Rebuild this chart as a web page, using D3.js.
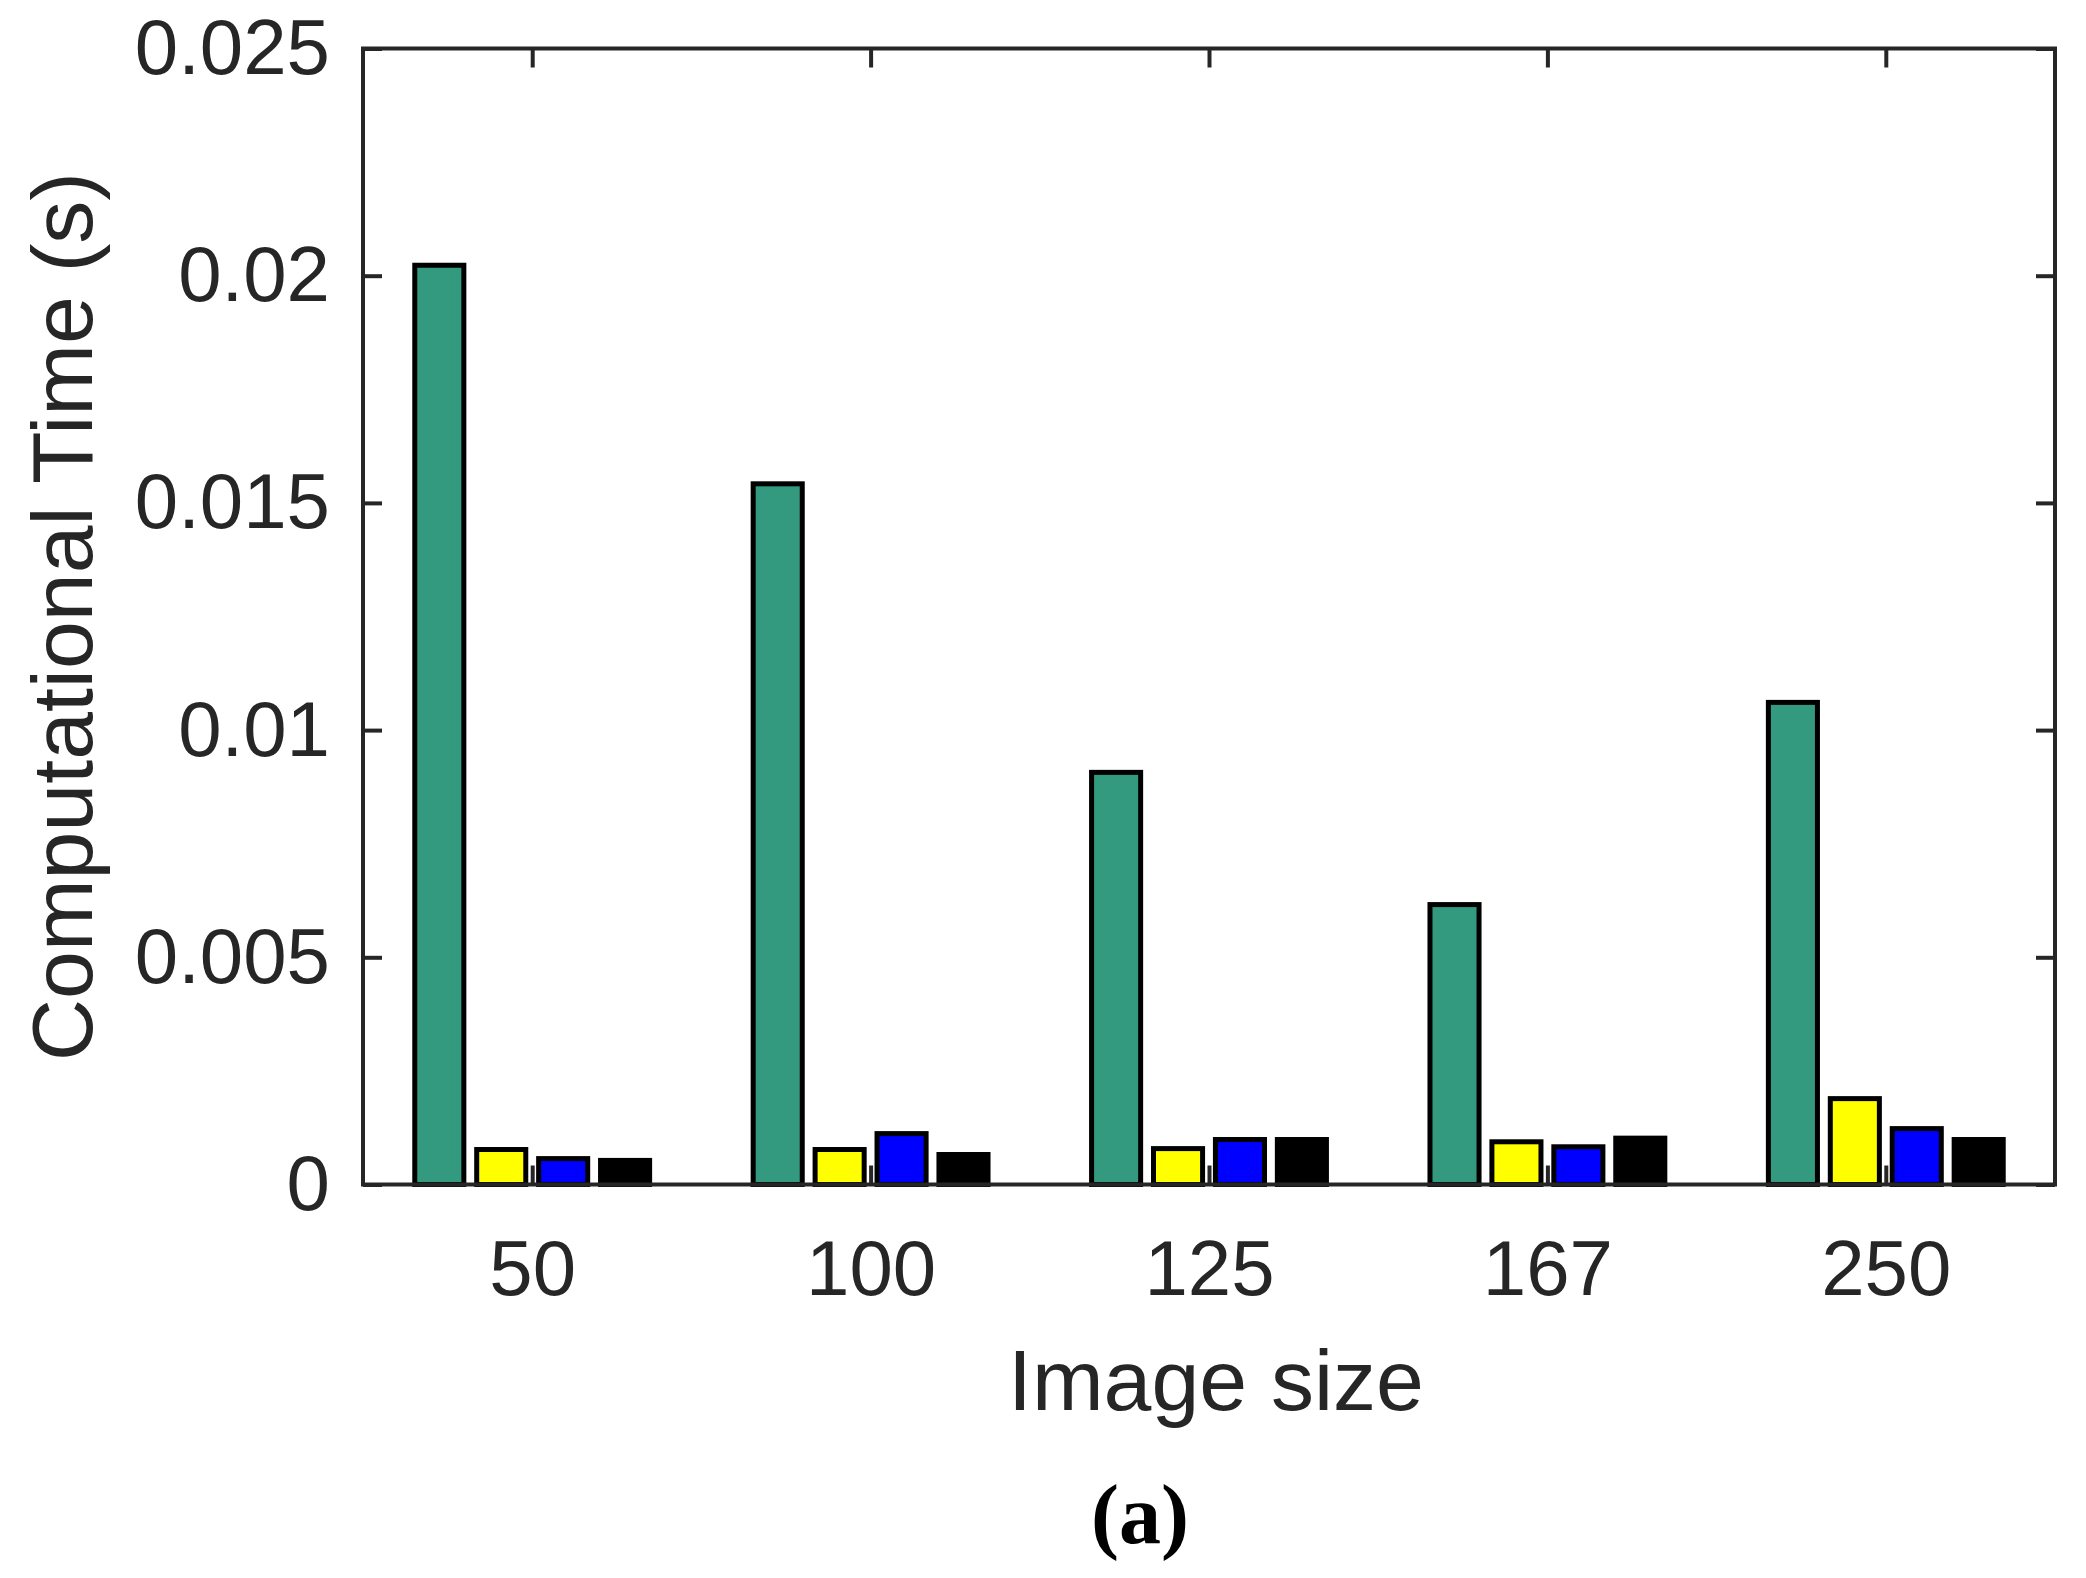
<!DOCTYPE html>
<html>
<head>
<meta charset="UTF-8">
<title>Computational Time</title>
<script src="https://cdn.jsdelivr.net/npm/d3@7"></script>
<style>
  body { margin: 0; background: #fff; }
  .tick text { font-family: "Liberation Sans", Arial, sans-serif; font-size: 78px; fill: #262626; }
  .tick line { stroke: #262626; stroke-width: 4; }
  .lbl { font-family: "Liberation Sans", Arial, sans-serif; font-size: 86px; fill: #262626; }
</style>
</head>
<body>
<svg id="chart" width="2086" height="1578"></svg>
<script>
// data
var categories = ["50", "100", "125", "167", "250"];
var seriesNames = ["s1", "s2", "s3", "s4"];
var greenVals  = [0.02023, 0.01542, 0.00907, 0.00616, 0.01061];
var yellowVals = [0.00077, 0.00077, 0.00079, 0.00094, 0.00189];
var blueVals   = [0.00057, 0.00112, 0.00099, 0.00083, 0.00123];
var blackVals  = [0.00053, 0.00066, 0.00099, 0.00102, 0.00099];
var yTicks = [0, 0.005, 0.01, 0.015, 0.02, 0.025];
var yTickLabels = ["0", "0.005", "0.01", "0.015", "0.02", "0.025"];

var colors = ["#33997f", "#ffff00", "#0000ff", "#000000"];
var allVals = [greenVals, yellowVals, blueVals, blackVals];

// plot box ("top" is a reserved window property, so use other names)
var pLeft = 363, pRight = 2055, pTop = 48.5, pBottom = 1184.5;

var svg = d3.select("#chart");

var x = d3.scaleLinear().domain([0.5, categories.length + 0.5]).range([pLeft, pRight]);
var y = d3.scaleLinear().domain([0, 0.025]).range([pBottom, pTop]);

// bars inside a group: 4 bars, step 0.183 units
var step = 0.183, barW = 0.145;
var sub = d3.scaleLinear().domain([0, 3]).range([-1.5 * step, 1.5 * step]);

// bars
seriesNames.forEach(function(name, s) {
  svg.append("g")
    .selectAll("rect")
    .data(allVals[s])
    .enter()
    .append("rect")
    .attr("x", function(d, i) { return x(i + 1 + sub(s) - barW / 2); })
    .attr("width", x(barW) - x(0))
    .attr("y", function(d) { return y(d); })
    .attr("height", function(d) { return y(0) - y(d); })
    .attr("fill", colors[s])
    .attr("stroke", "#000")
    .attr("stroke-width", 5);
});

// axes
var xPos = categories.map(function(c, i) { return i + 1; });

svg.append("g")
  .attr("transform", "translate(0," + pBottom + ")")
  .call(d3.axisBottom(x).tickValues(xPos).tickSize(-19).tickPadding(55)
    .tickFormat(function(d) { return categories[d - 1]; }))
  .call(function(g) { g.select(".domain").remove(); });

svg.append("g")
  .attr("transform", "translate(0," + pTop + ")")
  .call(d3.axisTop(x).tickValues(xPos).tickSize(-19).tickFormat(""))
  .call(function(g) { g.select(".domain").remove(); });

svg.append("g")
  .attr("transform", "translate(" + pLeft + ",0)")
  .call(d3.axisLeft(y).tickValues(yTicks).tickSize(-19).tickPadding(33)
    .tickFormat(function(d, i) { return yTickLabels[i]; }))
  .call(function(g) { g.select(".domain").remove(); });

svg.append("g")
  .attr("transform", "translate(" + pRight + ",0)")
  .call(d3.axisRight(y).tickValues(yTicks).tickSize(-19).tickFormat(""))
  .call(function(g) { g.select(".domain").remove(); });

// box
svg.append("rect")
  .attr("x", pLeft).attr("y", pTop)
  .attr("width", pRight - pLeft).attr("height", pBottom - pTop)
  .attr("fill", "none")
  .attr("stroke", "#262626")
  .attr("stroke-width", 4);

// labels
svg.append("text")
  .attr("class", "lbl")
  .attr("x", 1216).attr("y", 1410)
  .attr("text-anchor", "middle")
  .text("Image size");

svg.append("text")
  .attr("class", "lbl")
  .attr("transform", "translate(92," + (pTop + pBottom) / 2 + ") rotate(-90)")
  .attr("text-anchor", "middle")
  .text("Computational Time (s)");

svg.append("text")
  .attr("x", 1140).attr("y", 1543)
  .attr("text-anchor", "middle")
  .style("font-family", "'Liberation Serif', 'Times New Roman', serif")
  .style("font-weight", "bold")
  .style("font-size", "84px")
  .style("fill", "#000")
  .text("(a)");
</script>
</body>
</html>
